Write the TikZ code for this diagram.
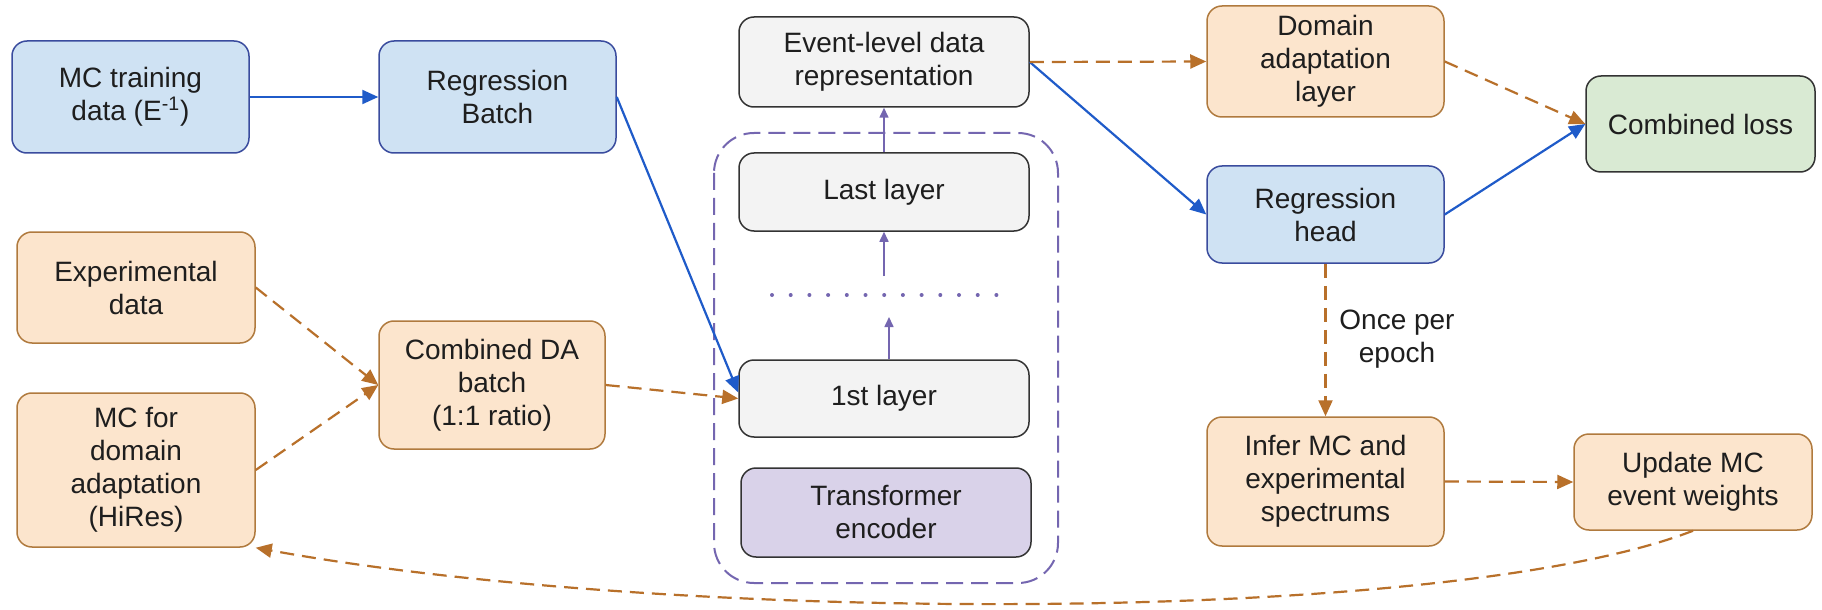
\documentclass[tikz,border=0pt]{standalone}
\usepackage{fontspec}
\setmainfont{Liberation Sans}
\usetikzlibrary{arrows.meta}

\definecolor{bluefill}{HTML}{CFE2F3}
\definecolor{blueline}{HTML}{3A4C9E}
\definecolor{bluearrow}{HTML}{1F5BC9}
\definecolor{orangefill}{HTML}{FCE5CD}
\definecolor{orangeline}{HTML}{B07A3E}
\definecolor{orangearrow}{HTML}{B8702A}
\definecolor{grayfill}{HTML}{F3F3F3}
\definecolor{purplefill}{HTML}{D9D2E9}
\definecolor{greenfill}{HTML}{D9EAD3}
\definecolor{darkline}{HTML}{333333}
\definecolor{purpleline}{HTML}{7466B0}
\definecolor{textcol}{HTML}{1E1E1E}

\begin{document}
\begin{tikzpicture}[x=0.5pt,y=-0.5pt,
  box/.style={draw, rounded corners=7.5pt, line width=0.75pt, align=center,
    inner sep=0pt, text=textcol, font=\fontsize{14}{16.5}\selectfont},
  bluebox/.style={box, fill=bluefill, draw=blueline},
  orangebox/.style={box, fill=orangefill, draw=orangeline},
  graybox/.style={box, fill=grayfill, draw=darkline},
  purplebox/.style={box, fill=purplefill, draw=darkline},
  greenbox/.style={box, fill=greenfill, draw=darkline},
  sz/.style 2 args={minimum width=#1, minimum height=#2},
  barrow/.style={draw=bluearrow, line width=1.1pt,
    -{Triangle[length=8pt,width=7pt]}, fill=bluearrow},
  oarrow/.style={draw=orangearrow, line width=1.1pt,
    dash pattern=on 7pt off 4pt,
    -{Triangle[length=8pt,width=7pt,fill=orangearrow]}},
  parrow/.style={draw=purpleline, line width=0.8pt,
    -{Triangle[length=5pt,width=4.5pt,fill=purpleline]}},
  lbl/.style={align=center, text=textcol, font=\fontsize{14}{16.5}\selectfont}
]
% canvas
\fill[white] (0,0) rectangle (1822,610);
\useasboundingbox (0,0) rectangle (1822,610);

% encoder container
\draw[purpleline, line width=1pt, dash pattern=on 8.5pt off 4pt, rounded corners=20pt]
  (714,133) rectangle (1058,583);

% input side
\node[bluebox, sz={118.5pt}{56pt}] (mctrain) at (130.5,97) {MC training\\data (E\textsuperscript{-1})};
\node[bluebox, sz={118.5pt}{56pt}] (regbatch) at (497.5,97) {Regression\\Batch};
\node[orangebox, sz={119pt}{55.5pt}] (expdata) at (136,287.5) {Experimental\\data};
\node[orangebox, sz={119pt}{77pt}] (mcda) at (136,470) {MC for\\domain\\adaptation\\(HiRes)};
\node[orangebox, sz={113pt}{64pt}] (combda) at (492,385) {Combined DA\\batch\\(1:1 ratio)};

% encoder stack
\node[graybox, sz={145pt}{45pt}] (event) at (884,62) {Event-level data\\representation};
\node[graybox, sz={145pt}{39pt}] (last) at (884,192) {Last layer};
\node[graybox, sz={145pt}{38.5pt}] (first) at (884,398.5) {1st layer};
\node[purplebox, sz={145pt}{44.5pt}] (trans) at (886,512.5) {Transformer\\encoder};

% heads and losses
\node[orangebox, sz={118.5pt}{55.5pt}] (domain) at (1325.5,61.5) {Domain\\adaptation\\layer};
\node[bluebox, sz={118.5pt}{48.5pt}] (reghead) at (1325.5,214.5) {Regression\\head};
\node[greenbox, sz={114.5pt}{48pt}] (loss) at (1700.5,124) {Combined loss};
\node[orangebox, sz={118.5pt}{64.5pt}] (infer) at (1325.5,481.5) {Infer MC and\\experimental\\spectrums};
\node[orangebox, sz={119pt}{48pt}] (update) at (1693,482) {Update MC\\event weights};

% layer dots and helper points
\coordinate (dotl) at (772,295);
\coordinate (dotr) at (1015,295);
\draw[purpleline, line width=2pt, line cap=round, dash pattern=on 0pt off 9.35pt] (dotl) -- (dotr);
\coordinate (dotsabove) at (884,276);
\coordinate (dotsbelow) at (889,317);

% regression path
\draw[barrow] (mctrain.east) -- (regbatch.west);
\draw[barrow] (regbatch.east) -- ([yshift=3pt]first.west);
\draw[barrow] (event.east) -- (reghead.west);
\draw[barrow] (reghead.east) -- (loss.west);

% domain adaptation path
\draw[oarrow] (expdata.east) -- (combda.west);
\draw[oarrow] (mcda.east) -- (combda.west);
\draw[oarrow] (combda.east) -- (first.west);
\draw[oarrow] (event.east) -- (domain.west);
\draw[oarrow] (domain.east) -- (loss.west);
\draw[oarrow] (reghead.south) -- (infer.north);
\node[lbl] (once) at (1397,339) {Once per\\epoch};
\draw[oarrow] (infer.east) -- (update.west);
\draw[oarrow] (update.south) .. controls (1450,625) and (680,625) .. (mcda.south east);

% flow through the encoder
\draw[parrow] (first.north -| dotsbelow) -- (dotsbelow);
\draw[parrow] (dotsabove) -- (last.south);
\draw[parrow] (last.north) -- (event.south);
\end{tikzpicture}
\end{document}
